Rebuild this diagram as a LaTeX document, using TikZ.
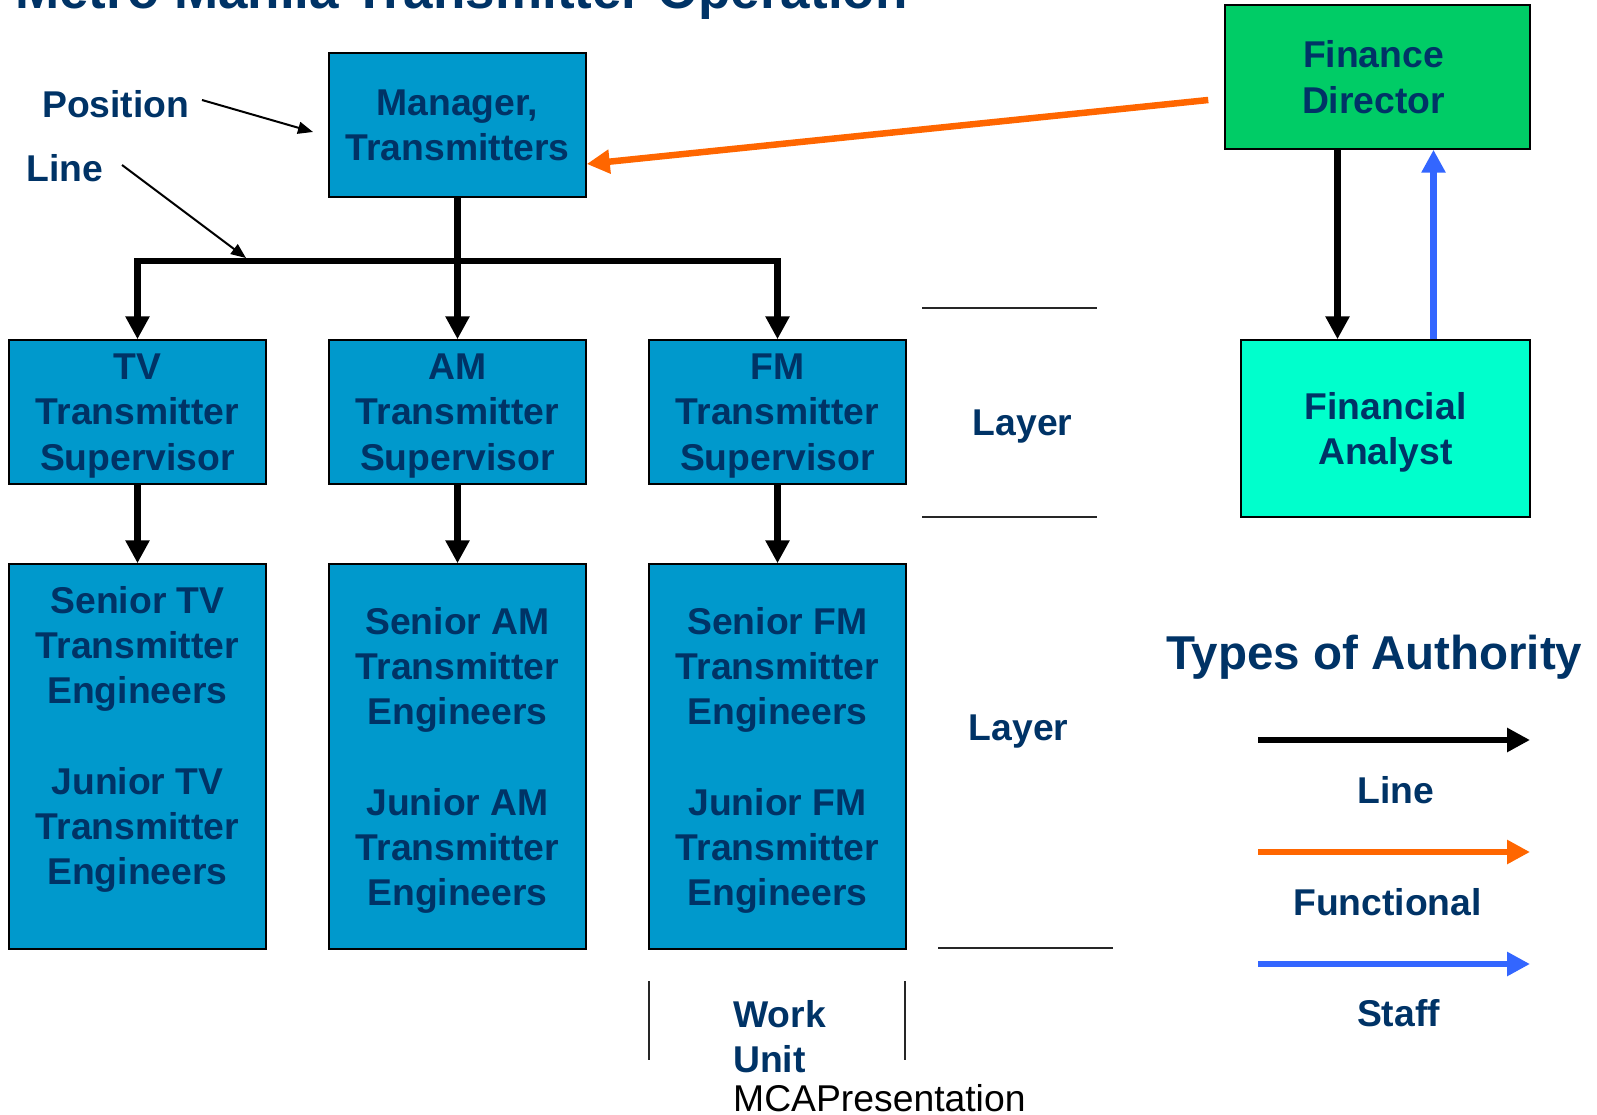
\documentclass[tikz,border=0pt]{standalone}
\usepackage{fontspec}
\setmainfont{Liberation Sans}
\usetikzlibrary{arrows.meta,calc}
\definecolor{navy}{HTML}{003366}
\definecolor{boxblue}{HTML}{0099CC}
\definecolor{fingreen}{HTML}{00CC66}
\definecolor{aqua}{HTML}{00FFCC}
\definecolor{funcorange}{HTML}{FF6600}
\definecolor{staffblue}{HTML}{3366FF}

\begin{document}
\begin{tikzpicture}[x=1pt,y=-1pt,
  txt/.style={font=\fontsize{37.3}{45.2}\selectfont\bfseries, text=navy, inner sep=0pt, align=center, text depth=0pt},
  box/.style={txt, draw=black, line width=1.5pt, fill=boxblue, minimum width=257pt, minimum height=144pt},
  tall/.style={box, minimum height=385pt},
  linearr/.style={line width=6.5pt, draw=black, -{Triangle[width=23pt,length=23pt]}},
  funcarr/.style={line width=6.5pt, draw=funcorange, -{Triangle[width=23pt,length=23pt]}},
  staffarr/.style={line width=6.5pt, draw=staffblue, -{Triangle[width=23pt,length=23pt]}},
  pointer/.style={line width=2pt, -{Triangle[width=12pt,length=15pt]}},
  rule/.style={line width=2pt, draw=black!85}
]
\useasboundingbox (0,0) rectangle (1597,1115);
\clip (0,0) rectangle (1597,1115);

% heading, partly above the top edge
\node[anchor=base west, inner sep=0pt, font=\fontsize{53}{60}\selectfont\bfseries, text=navy]
  (title) at (15,9) {Metro Manila Transmitter Operation};

% positions
\node[box] (mgr) at (457.5,125) {Manager,\\Transmitters};
\node[box] (tvs) at (137.5,412) {TV\\Transmitter\\Supervisor};
\node[box] (ams) at (457.5,412) {AM\\Transmitter\\Supervisor};
\node[box] (fms) at (777.5,412) {FM\\Transmitter\\Supervisor};

\node[tall, label={[txt, yshift=21pt]center:{Senior TV\\Transmitter\\Engineers\\[45.2pt]Junior TV\\Transmitter\\Engineers}}]
  (tve) at (137.5,756.5) {};
\node[tall] (ame) at (457.5,756.5) {Senior AM\\Transmitter\\Engineers\\[45.2pt]Junior AM\\Transmitter\\Engineers};
\node[tall] (fme) at (777.5,756.5) {Senior FM\\Transmitter\\Engineers\\[45.2pt]Junior FM\\Transmitter\\Engineers};

\node[box, fill=fingreen, minimum width=305pt, label={[txt, xshift=-4pt]center:{Finance\\Director}}] (fd) at (1377.5,77) {};
\node[box, fill=aqua, minimum width=289pt, minimum height=177pt] (fa) at (1385.5,428.5) {Financial\\Analyst};

% line authority from the manager
\coordinate (bus) at (0,261);
\draw[line width=6.5pt] (mgr.south) -- (mgr.south |- bus);
\draw[line width=6.5pt, line cap=rect] (tvs.north |- bus) -- (fms.north |- bus);
\draw[linearr] (tvs.north |- bus) -- (tvs.north);
\draw[linearr] (ams.north |- bus) -- (ams.north);
\draw[linearr] (fms.north |- bus) -- (fms.north);
\draw[linearr] (tvs.south) -- (tve.north);
\draw[linearr] (ams.south) -- (ame.north);
\draw[linearr] (fms.south) -- (fme.north);

% finance links
\draw[funcarr] ($(fd.west)+(-16,23)$) -- ($(mgr.east)+(0,39)$);
\draw[linearr] ([xshift=-40pt]fd.south) -- ([xshift=-40pt]fd.south |- fa.north);
\draw[staffarr] ([xshift=56pt]fd.south |- fa.north) -- ([xshift=56pt]fd.south);

% annotations
\node[txt, anchor=west] (pos) at (42,104) {Position};
\node[txt, anchor=west] (lin) at (26.5,168) {Line};
\coordinate (posfrom) at (202,100);
\coordinate (posto) at (313,132);
\coordinate (linfrom) at (122,165);
\coordinate (linto) at (246,258);
\draw[pointer] (posfrom) -- (posto);
\draw[pointer] (linfrom) -- (linto);

% layers and work unit
\draw[rule] (922,308) -- (1097,308);
\draw[rule] (922,517) -- (1097,517);
\draw[rule] (938,948) -- (1113,948);
\node[txt, anchor=base] (layer1) at (1022.5,435) {Layer};
\node[txt, anchor=base] (layer2) at (1018.5,740) {Layer};
\draw[rule] (649,981) -- (649,1060);
\draw[rule] (905,981) -- (905,1060);
\node[txt, anchor=base west] (work) at (733,1027) {Work};
\node[txt, anchor=base west] (unit) at (733,1072) {Unit};
\node[anchor=base west, inner sep=0pt, font=\fontsize{37.3}{42}\selectfont, text=black] (mca) at (733,1111) {MCAPresentation};

% legend
\node[anchor=base west, inner sep=0pt, font=\fontsize{47.5}{54}\selectfont\bfseries, text=navy] (types) at (1166,669) {Types of Authority};
\coordinate (l1a) at (1258,740); \coordinate (l1b) at (1530,740);
\coordinate (l2a) at (1258,852); \coordinate (l2b) at (1530,852);
\coordinate (l3a) at (1258,964); \coordinate (l3b) at (1530,964);
\draw[linearr] (l1a) -- (l1b);
\draw[funcarr] (l2a) -- (l2b);
\draw[staffarr] (l3a) -- (l3b);
\node[txt, anchor=base] (kline) at (1396,803) {Line};
\node[txt, anchor=base] (kfunc) at (1387.5,915) {Functional};
\node[txt, anchor=base] (kstaff) at (1398.5,1026) {Staff};
\end{tikzpicture}
\end{document}
